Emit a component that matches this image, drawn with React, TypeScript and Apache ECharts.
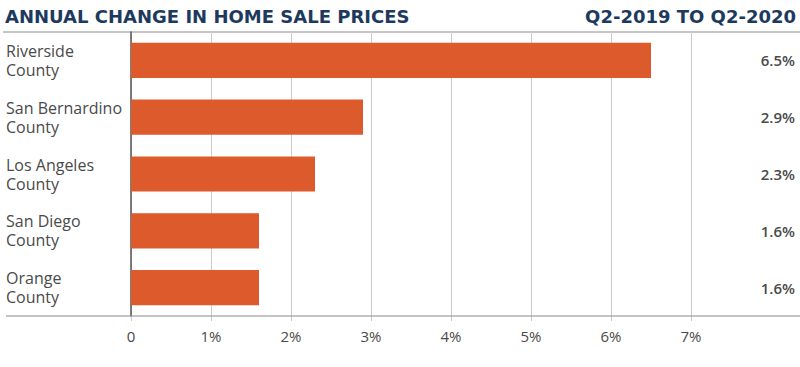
import React, { useEffect, useRef } from "react";
import * as echarts from "echarts";

const categories = ["Riverside\nCounty", "San Bernardino\nCounty", "Los Angeles\nCounty", "San Diego\nCounty", "Orange\nCounty"];
const values = [6.5, 2.9, 2.3, 1.6, 1.6];
const valueLabels = ["6.5%", "2.9%", "2.3%", "1.6%", "1.6%"];
const xTicks = [0, 1, 2, 3, 4, 5, 6, 7];

const FONT = "'Open Sans', Lato, sans-serif";
const TITLE_FONT = "'DejaVu Sans', 'Open Sans', sans-serif";

export default function App() {
  const ref = useRef<HTMLDivElement>(null);
  useEffect(() => {
    if (!ref.current) return;
    const chart = echarts.init(ref.current, undefined, { renderer: "svg" });
    chart.setOption({
      animation: false,
      grid: { left: 131, right: 109, top: 32, bottom: 51, containLabel: false },
      graphic: [
        { type: "text", left: 5, top: 7, style: { text: "ANNUAL CHANGE IN HOME SALE PRICES", fill: "#1d3a5e", font: `bold 18px ${TITLE_FONT}` } },
        { type: "text", right: 4, top: 7, style: { text: "Q2-2019 TO Q2-2020", fill: "#1d3a5e", font: `bold 18px ${TITLE_FONT}` } },
        { type: "line", shape: { x1: 3, y1: 32, x2: 800, y2: 32 }, style: { stroke: "#8a8a8a", lineWidth: 1 } },
        { type: "line", z: 10, shape: { x1: 6, y1: 316, x2: 800, y2: 316 }, style: { stroke: "#8a8a8a", lineWidth: 1 } },
      ],
      xAxis: {
        type: "value",
        min: 0,
        max: 7,
        interval: 1,
        axisLine: { show: false },
        axisTick: { show: true, length: 5, lineStyle: { color: "#cccccc" } },
        splitLine: { show: true, lineStyle: { color: "#cccccc", width: 1 } },
        axisLabel: {
          margin: 12,
          color: "#4a4a4a",
          fontSize: 15,
          fontFamily: FONT,
          formatter: (v: number) => (xTicks.includes(v) ? (v === 0 ? "0" : v + "%") : ""),
        },
      },
      yAxis: [
        {
          type: "category",
          data: categories,
          inverse: true,
          axisLine: { show: true, lineStyle: { color: "#555555", width: 1.5 } },
          axisTick: { show: false },
          axisLabel: {
            align: "left",
            margin: 125,
            color: "#4a4a4a",
            fontSize: 16,
            lineHeight: 19,
            fontFamily: FONT,
          },
        },
        {
          type: "category",
          data: valueLabels,
          inverse: true,
          position: "right",
          axisLine: { show: false },
          axisTick: { show: false },
          axisLabel: {
            align: "right",
            margin: 104,
            color: "#4a4a4a",
            fontSize: 15,
            fontWeight: 600,
            fontFamily: FONT,
          },
        },
      ],
      series: [
        {
          type: "bar",
          data: values,
          barWidth: "62%",
          itemStyle: { color: "#dc5a2b" },
          yAxisIndex: 0,
        },
      ],
    });
    return () => chart.dispose();
  }, []);
  return <div ref={ref} style={{ width: 800, height: 367, position: "absolute", left: 0, top: 0 }} />;
}
